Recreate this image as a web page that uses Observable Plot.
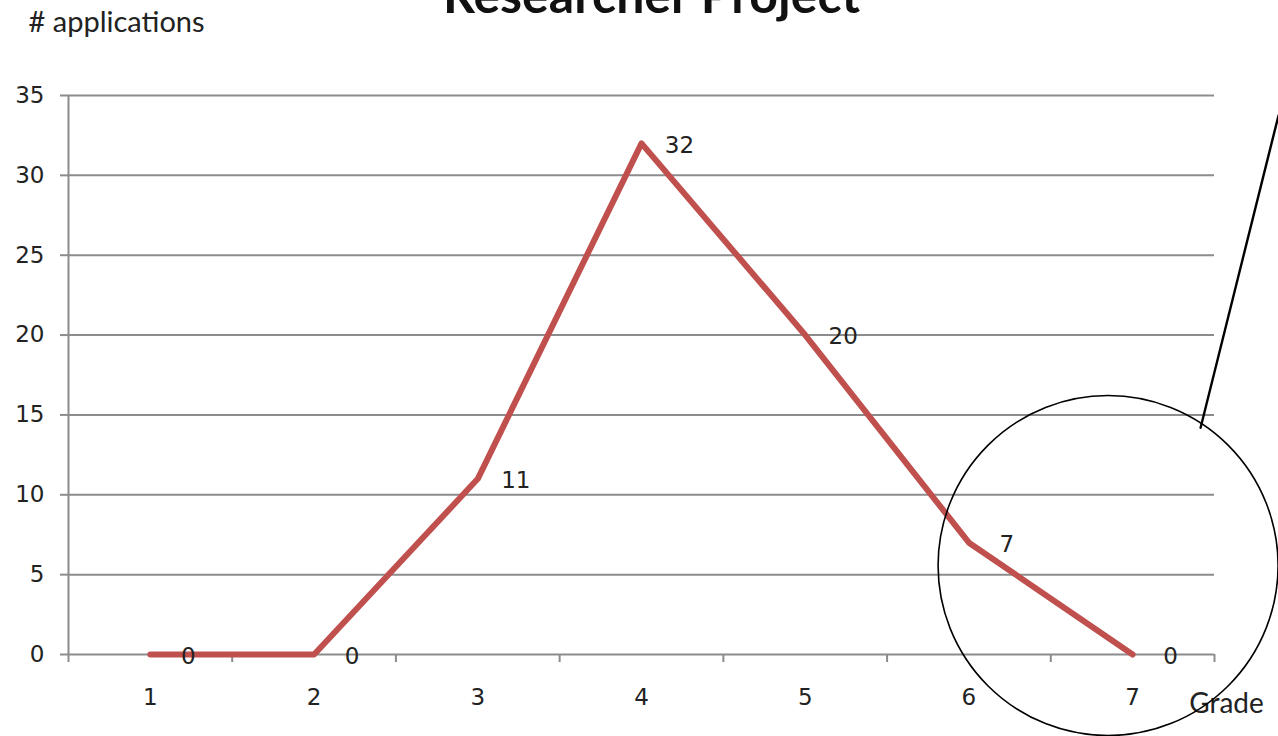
<!DOCTYPE html>
<html>
<head>
<meta charset="utf-8">
<script src="https://cdn.jsdelivr.net/npm/d3@7"></script>
<script src="https://cdn.jsdelivr.net/npm/@observablehq/plot@0.6"></script>
<style>
  html, body { margin: 0; padding: 0; background: #fff; }
  #chart svg { display: block; }
</style>
</head>
<body>
<div id="chart"></div>
<script>
const grades = [1, 2, 3, 4, 5, 6, 7];
const applications = [0, 0, 11, 32, 20, 7, 0];
const yTicks = [0, 5, 10, 15, 20, 25, 30, 35];
const title = "Researcher Project";
const yLabel = "# applications";
const xLabel = "Grade";
// hand-drawn annotation (in data units): circle around grade 7 and a pointer line
const circleCenter = [{x: 6.85, y: 5.57}];
const pointerLine = [{x: 7.415, y: 14.2}, {x: 7.891, y: 33.75}];

const data = grades.map((g, i) => ({grade: g, value: applications[i]}));
const boundaries = d3.range(0, grades.length + 1).map(i => i + 0.5);

const gray = "#8c8c8c";
const numFont = "DejaVu Sans";

const chart = Plot.plot({
  width: 1278,
  height: 736,
  marginLeft: 68,
  marginRight: 64,
  marginTop: 95,
  marginBottom: 82,
  style: {fontFamily: "Lato", background: "#fff", overflow: "visible"},
  x: {type: "linear", domain: [0.5, 7.5], axis: null},
  y: {type: "linear", domain: [0, 35], axis: null},
  marks: [
    Plot.ruleY(yTicks, {stroke: gray, strokeWidth: 2}),
    Plot.ruleX([0.5], {y1: 0, y2: 35, stroke: gray, strokeWidth: 2}),
    Plot.axisY({ticks: yTicks, tickSize: 8, tickPadding: 16, stroke: gray, strokeWidth: 2, fontSize: 23, fontFamily: numFont, fill: "#222", anchor: "left"}),
    Plot.axisX({ticks: boundaries, tickSize: 8, tickFormat: () => "", stroke: gray, strokeWidth: 2, anchor: "bottom"}),
    Plot.axisX({ticks: grades, tickSize: 0, tickPadding: 34, tickFormat: d3.format("d"), fontSize: 23, fontFamily: numFont, fill: "#222", anchor: "bottom"}),
    Plot.line(data, {x: "grade", y: "value", stroke: "#C0504D", strokeWidth: 6}),
    Plot.text(data, {x: "grade", y: "value", text: d => String(d.value), dx: 38, dy: 2, fontSize: 23, fontFamily: numFont, fill: "#222"}),
    Plot.text([title], {frameAnchor: "top", dx: 10, dy: -83, fontSize: 50, fontWeight: "bold", fill: "#111", lineAnchor: "bottom"}),
    Plot.text([yLabel], {frameAnchor: "top-left", dx: -40, dy: -84, fontSize: 29, fill: "#222", textAnchor: "start", lineAnchor: "top"}),
    Plot.text([xLabel], {frameAnchor: "bottom-right", dx: 12, dy: 58, fontSize: 28, fill: "#222", textAnchor: "middle"}),
    Plot.dot(circleCenter, {x: "x", y: "y", r: 170, stroke: "#000", strokeWidth: 1.6, fill: "none", clip: false}),
    Plot.line(pointerLine, {x: "x", y: "y", stroke: "#000", strokeWidth: 2.4, clip: false})
  ]
});
document.getElementById("chart").appendChild(chart);
</script>
</body>
</html>
